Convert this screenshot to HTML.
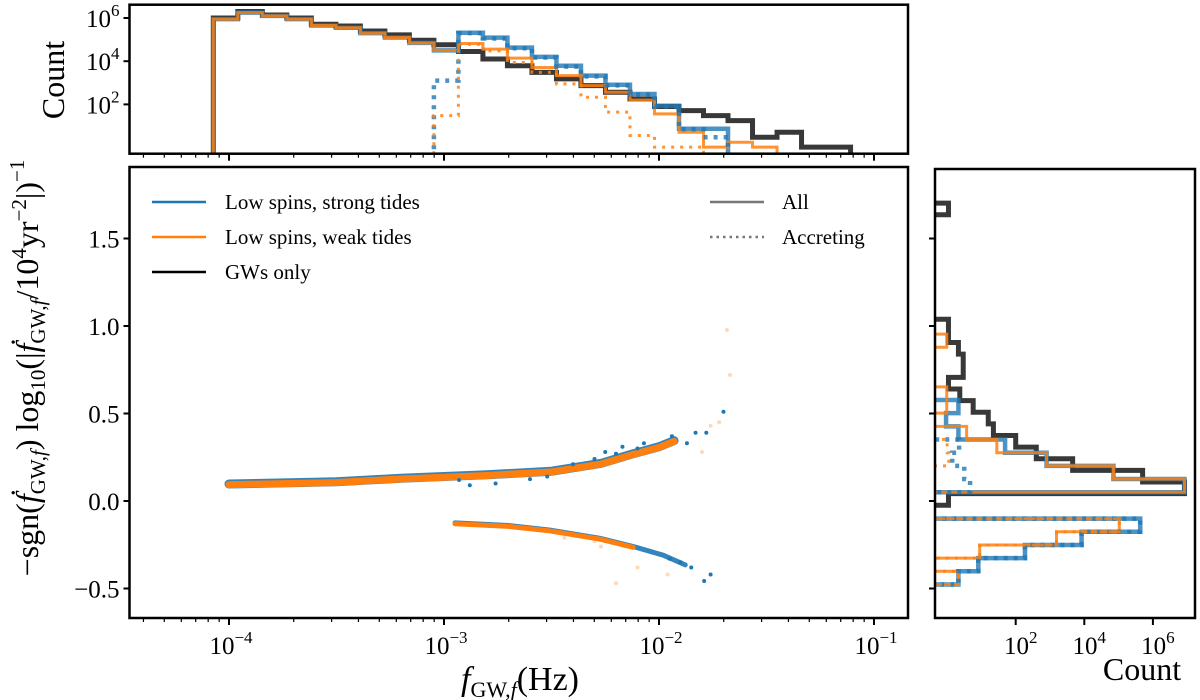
<!DOCTYPE html>
<html><head><meta charset="utf-8"><style>
html,body{margin:0;padding:0;background:#fff;}
svg{display:block;font-family:"Liberation Serif",serif;}
</style></head><body>
<svg id="chart" width="1200" height="700" viewBox="0 0 1200 700" xmlns="http://www.w3.org/2000/svg">
<g id="top"></g>
<g id="main"></g>
<g id="right"></g>
<g id="labels">
<text x="64" y="80" font-size="32" text-anchor="middle" transform="rotate(-90 64 80)">Count</text>
<text x="1142" y="680" font-size="32" text-anchor="middle">Count</text>
<text x="520" y="690" font-size="34" text-anchor="middle"><tspan font-style="italic">f</tspan><tspan font-size="22" dy="7">GW,</tspan><tspan font-size="22" font-style="italic">f</tspan><tspan dy="-7">(Hz)</tspan></text>
<text x="38" y="368" font-size="32" text-anchor="middle" transform="rotate(-90 38 368)">−sgn(<tspan font-style="italic">ḟ</tspan><tspan font-size="21" dy="7">GW,</tspan><tspan font-size="21" font-style="italic">f</tspan><tspan dy="-7">) log</tspan><tspan font-size="21" dy="7">10</tspan><tspan dy="-7">(|</tspan><tspan font-style="italic">ḟ</tspan><tspan font-size="21" dy="7">GW,</tspan><tspan font-size="21" font-style="italic">f</tspan><tspan dy="-7">/10</tspan><tspan font-size="21" dy="-12">4</tspan><tspan dy="12">yr</tspan><tspan font-size="21" dy="-12">−2</tspan><tspan dy="12">|)</tspan><tspan font-size="21" dy="-14">−1</tspan></text>
</g>
</svg>
<script>
// ---------- data ----------
const fBinStart = -4.073;
const fBinWidth = 0.114;
const topBlackAll = [6.0,6.3,6.14,6.0,5.71,5.63,5.4,5.22,4.97,4.76,4.45,4.1,3.79,3.48,3.18,2.87,2.56,2.25,1.9,1.71,1.48,1.25,0.48,0.71,0.02,0.02];
const topBlueAll  = [5.95,6.25,6.1,5.95,5.65,5.55,5.3,5.1,4.85,4.5,5.32,5.09,4.63,4.2,3.79,3.33,2.91,2.48,1.94,0.87,0.87,null,null,null,null,null];
const topOrangeAll= [5.95,6.25,6.1,5.95,5.65,5.55,5.3,5.1,4.85,4.5,4.82,4.56,4.14,3.71,3.33,2.87,2.56,2.2,1.56,0.71,0.02,0.25,0.02,null,null,null];
const topBlueAcc  = [null,null,null,null,null,null,null,null,null,3.1,5.3,5.05,4.6,4.17,3.75,3.3,2.88,2.45,1.9,0.85,0.48,null,null,null,null,null];
const topOrangeAcc= [null,null,null,null,null,null,null,null,null,1.48,4.78,4.48,3.94,3.48,2.95,2.33,1.64,0.56,0.02,0.02,null,null,null,null,null,null];
const topYTicks = [2,4,6];
const yBinStart = -0.477;
const yBinWidth = 0.0753;
const rightBlueAll   = [0.33,0.91,2.27,3.92,5.63,null,null,6.92,4.85,2.9,1.69,0.33,-0.03,0.33,null,null,null,null,null];
const rightOrangeAll = [0.33,null,0.95,3.19,5.02,null,null,6.92,4.85,2.9,1.45,0.57,null,-0.01,-0.01,null,null,null,-0.01,null];
const rightBlueAcc   = [0.33,0.91,2.27,3.92,5.63,null,null,0.67,0.5,0.15,0.35,null];
const rightOrangeAcc = [0.33,null,0.95,3.19,5.02,null,null,null,null,0.05,0.0,null];
const blackBinStart = -0.024;
const blackBinWidth = 0.0664;
const rightBlackAll = [0.04,6.92,5.7,3.66,2.6,2.0,1.35,1.2,0.76,0.37,0.04,0.47,0.47,0.33,0.04,0.04,null,null,null,null,null,null,null,null,null,0.04];
const rightXTicks = [2,4,6];
const upperBandF = [-4,-3.5,-3.2,-2.8,-2.5,-2.27,-2.12,-2.0,-1.93];
const upperBandV = [0.097,0.11,0.13,0.15,0.17,0.215,0.27,0.31,0.345];
const lowerBandF = [-2.949,-2.7,-2.507,-2.274,-2.12,-1.98,-1.878];
const lowerBandV = [-0.125,-0.14,-0.166,-0.213,-0.26,-0.31,-0.365];
const blueDotsF = [-2.93,-2.88,-2.76,-2.6,-2.52,-2.17,-2.07,-1.94,-1.87,-1.83,-1.78,-1.70,-1.79,-1.76,-1.9,-1.95,-2.25,-1.85,-2.4,-2.3,-2.2,-2.1];
const blueDotsV = [0.12,0.09,0.10,0.125,0.14,0.31,0.33,0.37,0.33,0.39,0.39,0.51,-0.457,-0.42,-0.35,-0.33,0.28,-0.38,0.21,0.24,0.27,0.3];
const orangeDotsF = [-1.76,-1.80,-2.2,-1.96,-2.44,-2.3,-2.27,-1.684,-1.67,-1.72,-2.1];
const orangeDotsV = [0.43,0.28,-0.47,-0.42,-0.21,-0.23,-0.26,0.977,0.72,0.45,-0.38];
const mainXTicks = [-4,-3,-2,-1];
const mainYTicks = [-0.5,0.0,0.5,1.0,1.5];

// ---------- scales ----------
const NS="http://www.w3.org/2000/svg";
const X0=129.5, X1=908;
const fx = l => 229 + 215*(l+4);
const topY = c => 18 + (6-c)*21.6;  const TOPT=4.7, TOPB=153.7;
const MT=167, MB=618;
const my = v => 501 - 175*v;
const RL=935, RR=1195;
const rx = c => 1015.7 + (c-2)*34.3;
const C_BLUE="#1f77b4", C_OR="#ff7f0e", C_BK="#222";

function mk(tag, attrs, parent){const e=document.createElementNS(NS,tag);for(const k in attrs)e.setAttribute(k,attrs[k]);parent.appendChild(e);return e;}

const defs=mk('defs',{},document.getElementById('chart'));
const cp1=mk('clipPath',{id:'ctop'},defs); mk('rect',{x:X0,y:TOPT,width:X1-X0,height:TOPB-TOPT},cp1);
const cp2=mk('clipPath',{id:'cmain'},defs); mk('rect',{x:X0,y:MT,width:X1-X0,height:MB-MT},cp2);
const cp3=mk('clipPath',{id:'cright'},defs); mk('rect',{x:RL,y:MT+2,width:RR-RL,height:MB-MT-2},cp3);

// ---------- top histogram ----------
const topG=document.getElementById('top');
const topData=mk('g',{'clip-path':'url(#ctop)'},topG);
function topStep(arr){
  let d='', bottom=TOPB+5;
  for(let i=0;i<arr.length;i++){
    const xa=fx(fBinStart+i*fBinWidth), xb=fx(fBinStart+(i+1)*fBinWidth);
    const y = arr[i]===null? bottom : topY(arr[i]);
    d += (i===0? `M${xa},${bottom}L${xa},${y}` : `L${xa},${y}`) + `L${xb},${y}`;
  }
  d += `L${fx(fBinStart+arr.length*fBinWidth)},${bottom}`;
  return d;
}
let p;
p=mk('path',{d:topStep(topBlackAll),fill:'none',stroke:C_BK,'stroke-width':5,'stroke-opacity':0.9},topData);


p=mk('path',{d:topStep(topBlueAll),fill:'none',stroke:C_BLUE,'stroke-width':4.5,'stroke-opacity':0.8},topData);


p=mk('path',{d:topStep(topOrangeAll),fill:'none',stroke:C_OR,'stroke-width':3,'stroke-opacity':0.85},topData);


p=mk('path',{d:topStep(topBlueAcc),fill:'none',stroke:C_BLUE,'stroke-width':4.5,'stroke-dasharray':'4,6','stroke-opacity':0.8},topData);


p=mk('path',{d:topStep(topOrangeAcc),fill:'none',stroke:C_OR,'stroke-width':3,'stroke-dasharray':'3,6','stroke-opacity':0.85},topData);


let r=mk('rect',{x:X0,y:TOPT,width:X1-X0,height:TOPB-TOPT,fill:'none',stroke:'#000','stroke-width':2.5},topG);


topYTicks.forEach(t=>{
  const y=topY(t);
  mk('line',{x1:X0-6,x2:X0,y1:y,y2:y,stroke:'#000','stroke-width':2},topG);
  const tx=mk('text',{x:X0-10,y:y+9,'font-size':25,'text-anchor':'end'},topG);
  tx.innerHTML='10<tspan font-size="17" dy="-11">'+t+'</tspan>';
  
  
});

function xTicks(g, yb, labels){
  for(let dec=-5;dec<=-1;dec++){
    for(let m=1;m<=9;m++){
      const l=dec+Math.log10(m); const x=fx(l);
      if(x<X0||x>X1) continue;
      const major=(m===1);
      mk('line',{x1:x,x2:x,y1:yb,y2:yb+(major?7:4),stroke:'#000','stroke-width':major?2:1.2},g);
    }
  }
  if(labels) mainXTicks.forEach(t=>{
    const tx=mk('text',{x:fx(t)+2,y:yb+36,'font-size':25,'text-anchor':'middle'},g);
    tx.innerHTML='10<tspan font-size="17" dy="-11">−'+(-t)+'</tspan>';
    
    
  });
}
xTicks(topG,TOPB,false);

// ---------- main scatter ----------
const mainG=document.getElementById('main');
const mainData=mk('g',{'clip-path':'url(#cmain)'},mainG);
function bandPath(F,V){return F.map((f,i)=>(i?'L':'M')+fx(f)+','+my(V[i])).join('');}
p=mk('path',{d:bandPath(upperBandF,upperBandV),fill:'none',stroke:C_BLUE,'stroke-width':9,'stroke-linecap':'round','stroke-opacity':0.9},mainData);


p=mk('path',{d:bandPath(upperBandF,upperBandV.map(v=>v-0.004)),fill:'none',stroke:C_OR,'stroke-width':7,'stroke-linecap':'round'},mainData);


p=mk('path',{d:bandPath(lowerBandF,lowerBandV),fill:'none',stroke:C_BLUE,'stroke-width':5,'stroke-linecap':'round','stroke-opacity':0.9},mainData);


p=mk('path',{d:bandPath(lowerBandF.slice(0,5),lowerBandV.slice(0,5).map(v=>v-0.005)),fill:'none',stroke:C_OR,'stroke-width':5,'stroke-linecap':'round'},mainData);


blueDotsF.forEach((f,i)=>{
  const c=mk('circle',{cx:fx(f),cy:my(blueDotsV[i]),r:2,fill:C_BLUE},mainData);
  
  
});
orangeDotsF.forEach((f,i)=>{
  const c=mk('circle',{cx:fx(f),cy:my(orangeDotsV[i]),r:2,fill:C_OR,'fill-opacity':0.3},mainData);
  
  
});
r=mk('rect',{x:X0,y:MT,width:X1-X0,height:MB-MT,fill:'none',stroke:'#000','stroke-width':2.5},mainG);


xTicks(mainG,MB,true);
mainYTicks.forEach(t=>{
  const y=my(t);
  mk('line',{x1:X0-6,x2:X0,y1:y,y2:y,stroke:'#000','stroke-width':2},mainG);
  const tx=mk('text',{x:X0-10,y:y+9,'font-size':25,'text-anchor':'end'},mainG);
  tx.textContent=(t<0?'−':'')+Math.abs(t).toFixed(1);
  
  
});
const leg=mk('g',{},mainG);


const legItems=[['Low spins, strong tides',C_BLUE,202],['Low spins, weak tides',C_OR,237],['GWs only','#000',272]];
legItems.forEach(([t,c,y])=>{
  mk('line',{x1:152,x2:206,y1:y,y2:y,stroke:c,'stroke-width':2.5},leg);
  const tx=mk('text',{x:225,y:y+7,'font-size':21},leg);
  tx.textContent=t;
  
  
});
mk('line',{x1:710,x2:764,y1:202,y2:202,stroke:'#777','stroke-width':2.5},leg);
let tx=mk('text',{x:782,y:209,'font-size':21},leg); tx.textContent='All';


mk('line',{x1:710,x2:764,y1:237,y2:237,stroke:'#777','stroke-width':2.5,'stroke-dasharray':'2.5,4'},leg);
tx=mk('text',{x:782,y:244,'font-size':21},leg); tx.textContent='Accreting';



// ---------- right histogram ----------
const rG=document.getElementById('right');
const rData=mk('g',{'clip-path':'url(#cright)'},rG);
function rightStep(arr,start,w){
  const left=RL-5; let d='';
  for(let i=0;i<arr.length;i++){
    const ya=my(start+i*w), yb=my(start+(i+1)*w);
    const x=arr[i]===null?left:rx(arr[i]);
    d += (i===0?`M${left},${ya}L${x},${ya}`:`L${x},${ya}`)+`L${x},${yb}`;
  }
  d += `L${left},${my(start+arr.length*w)}`;
  return d;
}
p=mk('path',{d:rightStep(rightBlackAll,blackBinStart,blackBinWidth),fill:'none',stroke:C_BK,'stroke-width':5,'stroke-opacity':0.9},rData);


p=mk('path',{d:rightStep(rightBlueAll,yBinStart,yBinWidth),fill:'none',stroke:C_BLUE,'stroke-width':4.5,'stroke-opacity':0.8},rData);


p=mk('path',{d:rightStep(rightOrangeAll,yBinStart,yBinWidth),fill:'none',stroke:C_OR,'stroke-width':3,'stroke-opacity':0.85},rData);


p=mk('path',{d:rightStep(rightBlueAcc,yBinStart,yBinWidth),fill:'none',stroke:C_BLUE,'stroke-width':4.5,'stroke-dasharray':'4,6','stroke-opacity':0.8},rData);


p=mk('path',{d:rightStep(rightOrangeAcc,yBinStart,yBinWidth),fill:'none',stroke:C_OR,'stroke-width':3,'stroke-dasharray':'3,6','stroke-opacity':0.85},rData);


r=mk('rect',{x:RL,y:MT+2,width:RR-RL,height:MB-MT-2,fill:'none',stroke:'#000','stroke-width':2.5},rG);


mainYTicks.forEach(t=>{const y=my(t);mk('line',{x1:RL-6,x2:RL,y1:y,y2:y,stroke:'#000','stroke-width':2},rG);});
rightXTicks.forEach(t=>{
  const x=rx(t);
  mk('line',{x1:x,x2:x,y1:MB,y2:MB+7,stroke:'#000','stroke-width':2},rG);
  const t2=mk('text',{x:x+5,y:MB+36,'font-size':25,'text-anchor':'middle'},rG);
  t2.innerHTML='10<tspan font-size="17" dy="-11">'+t+'</tspan>';
  
  
});
</script>
</body></html>
